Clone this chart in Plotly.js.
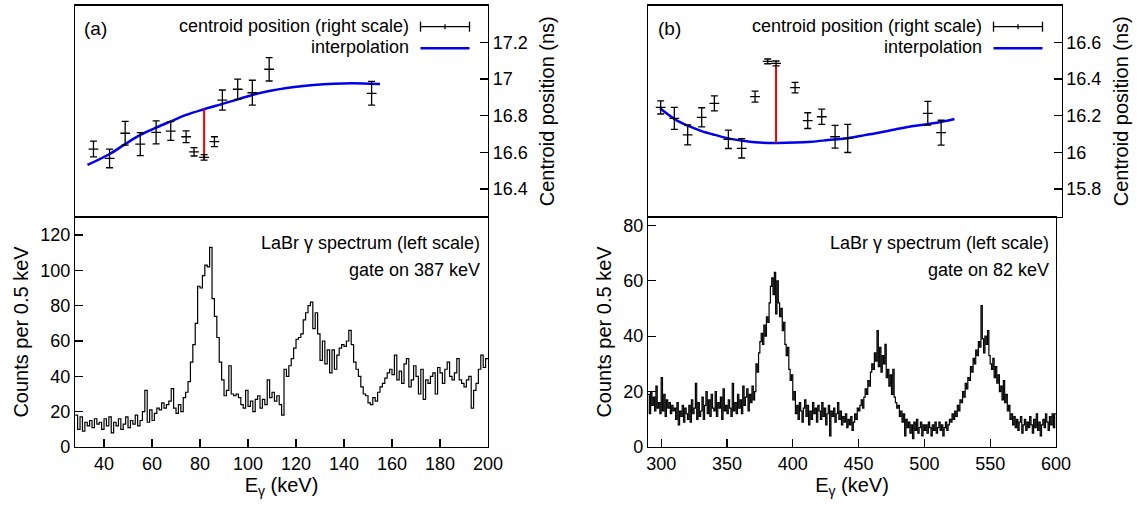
<!DOCTYPE html>
<html>
<head>
<meta charset="utf-8">
<script src="https://cdn.plot.ly/plotly-3.0.1.min.js"></script>
<style>html,body{margin:0;padding:0;background:#fff;}#chart{width:1137px;height:512px;}</style>
</head>
<body>
<div id="chart"></div>
<script>
// ---------- DATA ----------
// Panel (a): centroid positions (right scale, ns) vs energy (keV)
const energyA   = [35.6, 42.3, 48.8, 55.1, 61.7, 67.8, 74.2, 77.5, 81.7, 86.0, 89.3, 95.7, 101.8, 108.8, 151.5];
const centroidA = [16.618, 16.567, 16.704, 16.645, 16.709, 16.716, 16.685, 16.603, 16.573, 16.658, 16.885, 16.944, 16.925, 17.053, 16.922];
const errorA    = [0.043, 0.051, 0.065, 0.063, 0.063, 0.051, 0.032, 0.023, 0.015, 0.027, 0.055, 0.055, 0.068, 0.064, 0.065];
// interpolation curve (a)
const interpEA  = [33.1, 42.3, 48.8, 55.1, 61.7, 67.8, 74.2, 81.7, 89.3, 95.7, 101.8, 108.8, 116.1, 123.1, 131.4, 139.7, 148.0, 155.0];
const interpYA  = [16.531, 16.591, 16.645, 16.695, 16.735, 16.769, 16.804, 16.835, 16.864, 16.889, 16.913, 16.934, 16.951, 16.962, 16.971, 16.976, 16.976, 16.973];
// red marker line (a): energy, from curve to centroid
const gateEA = [81.7, 81.7];
const gateYA = [16.835, 16.562];
// spectrum (a): counts per bin, bins start at 28 keV, 1 keV apart
const specStartA = 28;
const countsA = [
 18,10,17,9,14,12,15,11,16,13,14,10,16,
 12,17,8,14,12,16,10,13,17,11,
 15,13,18,12,15,20,32,14,21,15,
 19,22,21,25,22,24,26,33,22,19,
 24,20,28,31,37,48,58,70,91,90,
 97,103,102,113,84,74,62,48,38,29,
 32,46,30,29,30,28,24,22,32,23,
 26,20,27,29,22,27,24,38,28,31,
 26,29,24,18,44,40,46,50,56,61,
 62,64,72,76,80,82,67,76,64,49,
 60,47,55,42,55,44,52,56,58,57,
 60,66,58,48,44,40,34,30,29,25,
 24,28,26,31,34,36,39,42,44,41,
 52,38,43,36,47,50,34,38,46,40,
 30,44,27,38,36,40,42,30,45,42,
 36,44,48,40,38,42,50,38,36,34,
 38,40,22,32,36,44,52,45,50
];

// Panel (b)
const energyB   = [299.5, 309.75, 319.75, 330.25, 339.75, 350.25, 360.25, 370.25, 379.75, 386.0, 400.25, 409.75, 420.25, 430.25, 439.75, 499.75, 509.75];
const centroidB = [16.245, 16.185, 16.095, 16.191, 16.267, 16.071, 16.022, 16.304, 16.496, 16.485, 16.353, 16.173, 16.194, 16.085, 16.076, 16.213, 16.107];
const errorB    = [0.036, 0.060, 0.054, 0.052, 0.041, 0.050, 0.053, 0.030, 0.013, 0.013, 0.029, 0.043, 0.042, 0.062, 0.077, 0.065, 0.068];
const interpEB  = [299.0, 310.25, 320.25, 330.25, 340.25, 350.25, 360.25, 370.25, 385.75, 400.25, 412.75, 425.25, 437.75, 450.25, 462.75, 475.25, 487.75, 500.25, 510.25, 519.75];
const interpYB  = [16.240, 16.180, 16.144, 16.116, 16.095, 16.076, 16.064, 16.055, 16.051, 16.053, 16.058, 16.067, 16.076, 16.091, 16.107, 16.125, 16.142, 16.155, 16.167, 16.182];
const gateEB = [386.0, 386.0];
const gateYB = [16.051, 16.478];
const specStartB = 290;
const countsB = [
 19,12,20,15,18,13,22,14,16,12,
 25,13,19,11,17,14,16,12,15,13,
 14,10,16,8,13,11,15,9,14,12,
 10,15,9,17,12,14,23,10,16,11,
 13,18,10,15,20,12,17,11,19,14,
 13,20,11,16,14,18,10,21,13,15,
 12,17,14,11,23,13,16,12,19,14,
 17,12,22,15,18,21,13,19,16,22,
 17,20,30,27,34,38,41,37,44,40,
 47,45,52,58,61,55,63,48,60,52,
 47,50,42,45,37,33,36,28,24,26,
 17,20,12,15,10,16,13,9,14,17,
 11,15,8,13,10,16,12,14,9,15,
 13,10,16,11,14,8,12,15,4,13,
 11,14,9,12,16,10,13,8,11,9,
 12,7,10,8,11,6,9,12,10,14,
 13,15,17,14,18,21,19,24,22,27,
 30,28,34,31,42,29,36,27,33,30,
 37,25,28,22,26,19,28,18,16,14,
 15,11,13,9,12,4,10,7,9,5,
 8,3,9,6,10,5,7,9,4,8,
 6,8,5,9,7,4,8,6,9,5,
 7,9,6,8,4,7,9,6,8,10,
 9,12,10,13,11,15,13,17,16,20,
 18,23,21,25,24,29,27,32,30,35,
 33,38,36,51,39,34,40,37,42,33,
 30,28,32,25,29,23,26,20,22,17,
 24,16,19,13,15,10,12,8,11,7,
 10,6,9,11,5,8,10,6,9,7,
 11,8,5,10,7,12,6,9,4,8,
 10,7,12,9,6,11,8,12,7,12
];
const tickValsTopA = [16.4, 16.6, 16.8, 17, 17.2];
const tickTextTopA = ['16.4', '16.6', '16.8', '17', '17.2'];
const tickValsTopB = [15.8, 16, 16.2, 16.4, 16.6];
const tickTextTopB = ['15.8', '16', '16.2', '16.4', '16.6'];

// ---------- LAYOUT ----------
const W = 1137, H = 512;
const px = x => x / W;
const py = y => 1 - y / H;
const FONT = 'Liberation Sans, Arial, Helvetica, sans-serif';
const BLUE = 'rgb(0,0,235)';

function stepXY(start, counts) {
  const x = counts.map((_, i) => start + i);
  const y = counts.slice();
  x.push(start + counts.length); y.push(counts[counts.length - 1]);
  return {x, y};
}
const sA = stepXY(specStartA, countsA);
const sB = stepXY(specStartB, countsB);

function errTrace(x, y, e, xa, ya) {
  return {type: 'scatter', mode: 'markers', x, y, xaxis: xa, yaxis: ya,
    error_y: {type: 'data', array: e, visible: true, color: 'black', thickness: 1.3, width: 3.5},
    marker: {symbol: 'line-ew', size: 7, color: 'black', line: {width: 1.3, color: 'black'}},
    hoverinfo: 'skip'};
}
function lineTrace(x, y, xa, ya, color, width, shape) {
  return {type: 'scatter', mode: 'lines', x, y, xaxis: xa, yaxis: ya,
    line: {color, width, shape: shape || 'linear'}, hoverinfo: 'skip'};
}

const data = [
  lineTrace(sA.x, sA.y, 'x', 'y', 'black', 1.2, 'hv'),
  lineTrace(interpEA, interpYA, 'x2', 'y2', BLUE, 2.5, 'spline'),
  lineTrace(gateEA, gateYA, 'x2', 'y2', 'rgb(240,0,0)', 2),
  errTrace(energyA, centroidA, errorA, 'x2', 'y2'),
  lineTrace(sB.x, sB.y, 'x3', 'y3', 'black', 1.2, 'hv'),
  lineTrace(interpEB, interpYB, 'x4', 'y4', BLUE, 2.5, 'spline'),
  lineTrace(gateEB, gateYB, 'x4', 'y4', 'rgb(240,0,0)', 2),
  errTrace(energyB, centroidB, errorB, 'x4', 'y4')
];

const xA = [px(75), px(488)];
const xBbot = [px(648), px(1056)];
const xBtop = [px(648), px(1061.5)];
const yTop = [py(217), py(5.5)];
const yBot = [py(447), py(217)];

const common = {showgrid: false, zeroline: false, showline: true, mirror: true,
  linecolor: 'black', linewidth: 1.2, tickcolor: 'black', tickwidth: 1.2,
  tickfont: {family: FONT, size: 18, color: 'black'}, fixedrange: true};

function botX(domain, range, dtick, anchor) {
  return Object.assign({}, common, {domain, range, anchor, ticks: 'inside', ticklen: 8, dtick, tick0: 0,
    title: {text: 'E<sub>γ</sub> (keV)', font: {family: FONT, size: 20, color: 'black'}, standoff: 4}});
}
function botY(domain, range, anchor) {
  return Object.assign({}, common, {domain, range, anchor, ticks: 'inside', ticklen: 8, dtick: 20, tick0: 0,
    title: {text: 'Counts per 0.5 keV', font: {family: FONT, size: 20, color: 'black'}, standoff: 6}});
}
function topX(domain, range, anchor) {
  return Object.assign({}, common, {domain, range, anchor, ticks: '', showticklabels: false});
}
function topY(domain, range, anchor, tv, tt) {
  return Object.assign({}, common, {domain, range, anchor, side: 'right', ticks: 'inside', ticklen: 8,
    tickvals: tv, ticktext: tt,
    title: {text: 'Centroid position (ns)', font: {family: FONT, size: 20, color: 'black'}, standoff: 13}});
}

const shapes = [];
const annotations = [];
function legend(rightPx) {
  const textR = rightPx - 77.5, s0 = rightPx - 67.5, s1 = rightPx - 18.5;
  const y1 = 26.7, y2 = 48.3, sm = (s0 + s1) / 2;
  const L = (xa, ya, xb, yb, color, w) => shapes.push({type: 'line', xref: 'paper', yref: 'paper',
    x0: px(xa), y0: py(ya), x1: px(xb), y1: py(yb), line: {color, width: w}});
  L(s0, y1, s1, y1, 'black', 1.3);
  L(s0, y1 - 5, s0, y1 + 5, 'black', 1.3);
  L(s1, y1 - 5, s1, y1 + 5, 'black', 1.3);
  L(sm, y1 - 2.5, sm, y1 + 2.5, 'black', 1.3);
  L(s0, y2, s1, y2, BLUE, 2.5);
  annotations.push({xref: 'paper', yref: 'paper', x: px(textR), y: py(y1 - 1), xanchor: 'right', yanchor: 'middle',
    text: 'centroid position (right scale)', showarrow: false, font: {family: FONT, size: 18, color: 'black'}});
  annotations.push({xref: 'paper', yref: 'paper', x: px(textR), y: py(y2 - 1), xanchor: 'right', yanchor: 'middle',
    text: 'interpolation', showarrow: false, font: {family: FONT, size: 18, color: 'black'}});
}
legend(488);
legend(1061);
function label(xPx, yPx, text, anchor, size) {
  annotations.push({xref: 'paper', yref: 'paper', x: px(xPx), y: py(yPx), xanchor: anchor, yanchor: 'middle',
    text, showarrow: false, font: {family: FONT, size, color: 'black'}});
}
label(82, 28, '(a)', 'left', 19);
label(655.5, 28, '(b)', 'left', 19);
label(482, 243, 'LaBr γ spectrum (left scale)', 'right', 18);
label(482, 270, 'gate on 387 keV', 'right', 18);
label(1051, 243, 'LaBr γ spectrum (left scale)', 'right', 18);
label(1051, 270, 'gate on 82 keV', 'right', 18);

const layout = {
  width: W, height: H, margin: {l: 0, r: 0, t: 0, b: 0},
  paper_bgcolor: 'white', plot_bgcolor: 'rgba(0,0,0,0)',
  showlegend: false, hovermode: false,
  font: {family: FONT, size: 18, color: 'black'},
  xaxis: botX(xA, [27.9, 200], 20, 'y'),
  yaxis: botY(yBot, [0, 130.2], 'x'),
  xaxis2: topX(xA, [27.9, 200], 'y2'),
  yaxis2: topY(yTop, [16.2474, 17.4007], 'x2', tickValsTopA, tickTextTopA),
  xaxis3: botX(xBbot, [290, 600], 50, 'y3'),
  yaxis3: botY(yBot, [0, 83], 'x3'),
  xaxis4: topX(xBtop, [290, 600], 'y4'),
  yaxis4: topY(yTop, [15.6474, 16.8007], 'x4', tickValsTopB, tickTextTopB),
  shapes, annotations
};

Plotly.newPlot('chart', data, layout, {displayModeBar: false, staticPlot: true});
</script>
</body>
</html>
